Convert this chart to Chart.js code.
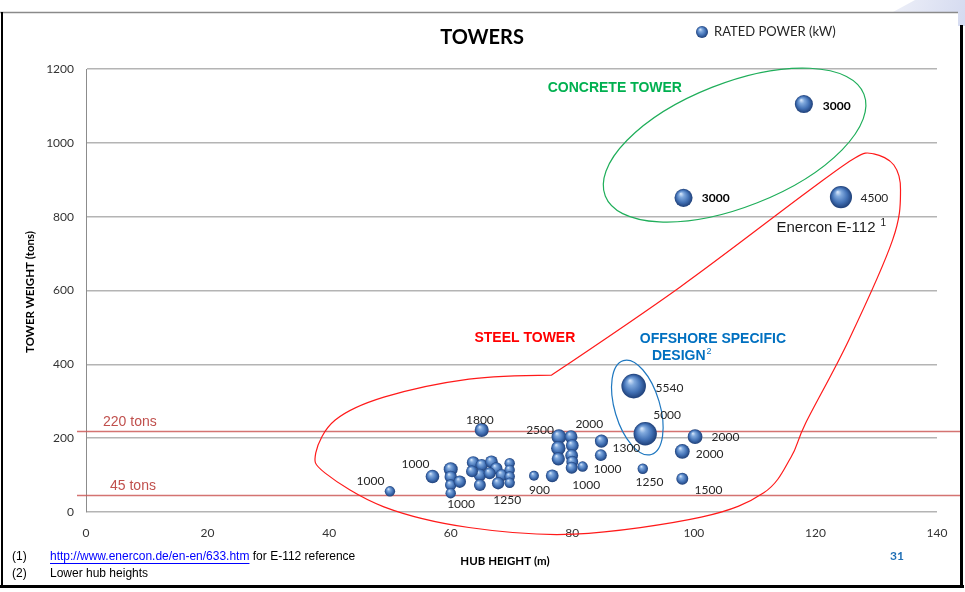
<!DOCTYPE html>
<html>
<head>
<meta charset="utf-8">
<script src="https://cdn.jsdelivr.net/npm/chart.js@4.4.0/dist/chart.umd.min.js"></script>
<style>
  html, body { margin: 0; padding: 0; background: #fff; }
  #wrap { position: relative; width: 965px; height: 592px; }
</style>
</head>
<body>
<div id="wrap"><canvas id="towerChart" width="965" height="592"></canvas></div>
<script>
// Hub height (m) of each turbine
const hubHeight = [
  50, 57, 60, 60, 60, 60, 61.5, 63.7, 65.1, 64.8, 64.8, 63.5, 66.7, 67.5, 66.4, 68.4, 67.8,
  69.7, 69.7, 69.7, 69.7, 65.1, 73.7, 76.7, 77.8, 77.7, 77.7, 79.8, 80, 79.9, 80, 79.9,
  81.7, 84.8, 84.7, 90.1, 92.0, 91.6, 100.2, 98.1, 98.1, 98.3, 118.1, 124.2
];
// Tower weight (tons)
const towerWeight = [
  56, 96, 116, 95, 73, 51, 82, 134, 127, 100, 73, 110, 136, 118, 105, 100, 78,
  132, 114, 96, 79, 222, 98, 98, 204, 173, 144, 204, 180, 153, 136, 120,
  123, 192, 154, 341, 212, 117, 204, 164, 90, 851, 1105, 853
];
// Rated power (kW) -> bubble size
const ratedPower = [
  1000, 1700, 1800, 1400, 1200, 1000, 1400, 1500, 1400, 1500, 1300, 1300, 1500, 1400, 1300, 1400, 1400,
  1000, 1000, 1000, 1000, 1800, 900, 1500, 2000, 1900, 1600, 1500, 1500, 1500, 1300, 1300,
  1000, 1600, 1300, 5540, 5000, 1000, 2000, 2000, 1300, 3000, 3000, 4500
];
const xTicks = [0, 20, 40, 60, 80, 100, 120, 140];
const yTicks = [0, 200, 400, 600, 800, 1000, 1200];
const refWeights = [220, 45];
const refNames = ['220 tons', '45 tons'];

// power labels written next to the bubbles (text, hub height, weight)
const powerLabels = [
  ['1000', 46.8, 83], ['1000', 54.2, 130], ['1000', 61.7, 20], ['1250', 69.3, 33],
  ['1800', 64.8, 250], ['900', 74.6, 59], ['2500', 74.7, 222], ['2000', 82.8, 239],
  ['1300', 88.9, 173], ['1000', 85.8, 117], ['1000', 82.3, 72], ['5540', 96.0, 336],
  ['5000', 95.6, 263], ['2000', 105.2, 202], ['2000', 102.6, 158], ['1250', 92.7, 80],
  ['1500', 102.4, 60], ['4500', 129.7, 849]
];
const boldLabels = [['3000', 103.6, 849], ['3000', 123.5, 1100]];

const points = hubHeight.map((h, i) => ({
  x: h,
  y: towerWeight[i],
  r: 0.165 * Math.sqrt(ratedPower[i])
}));

const FONT = 'Lato, "Open Sans", sans-serif';
const ARIAL = '"Liberation Sans", Arial, sans-serif';

function sphere(c, x, y, r) {
  const g = c.createRadialGradient(x - r * 0.3, y - r * 0.45, r * 0.05, x, y, r);
  g.addColorStop(0, '#cfe1f8');
  g.addColorStop(0.25, '#80a9dd');
  g.addColorStop(0.65, '#4372b6');
  g.addColorStop(1, '#1e3f78');
  return g;
}

function sphereFill(ctx) {
  const chart = ctx.chart;
  if (!ctx.raw || !chart.scales.x || !chart.scales.y) return '#4f81bd';
  const x = chart.scales.x.getPixelForValue(ctx.raw.x);
  const y = chart.scales.y.getPixelForValue(ctx.raw.y);
  if (!isFinite(x) || !isFinite(y) || !isFinite(ctx.raw.r)) return '#4f81bd';
  return sphere(chart.ctx, x, y, ctx.raw.r);
}

// closed smooth curve through points (catmull-rom), third flag = sharp corner
function smoothClosed(c, pts) {
  const n = pts.length;
  const tan = pts.map((p, i) => {
    if (p[2]) return [0, 0];
    const a = pts[(i - 1 + n) % n], b = pts[(i + 1) % n];
    return [(b[0] - a[0]) / 6, (b[1] - a[1]) / 6];
  });
  c.moveTo(pts[0][0], pts[0][1]);
  for (let i = 0; i < n; i++) {
    const j = (i + 1) % n;
    const p1 = pts[i], p2 = pts[j];
    c.bezierCurveTo(p1[0] + tan[i][0], p1[1] + tan[i][1],
                    p2[0] - tan[j][0], p2[1] - tan[j][1], p2[0], p2[1]);
  }
}

// outline of the steel tower group (hub height, weight)
const steelOutline = [
  [37.8, 160], [41.0, 249], [49.0, 311], [63.0, 360], [76.6, 371, 1],
  [97.7, 609], [118.4, 864], [126.5, 959], [129.6, 970], [132.9, 940], [134.0, 872],
  [132.7, 737], [125.5, 466], [118.4, 241], [116.0, 149], [111.5, 52], [101.2, -14],
  [80.3, -60], [63.0, -42], [49.0, 14], [39.3, 106]
];

const towerOverlay = {
  id: 'towerOverlay',
  beforeDatasetsDraw(chart) {
    const c = chart.ctx, sy = chart.scales.y;
    c.save();
    refWeights.forEach((w, i) => {
      const py = Math.round(sy.getPixelForValue(w)) + 0.5;
      c.strokeStyle = 'rgba(205, 90, 88, 0.85)';
      c.lineWidth = 1.5;
      c.beginPath();
      c.moveTo(77, py);
      c.lineTo(963, py);
      c.stroke();
      c.fillStyle = '#c0504d';
      c.font = '14px ' + ARIAL;
      c.textAlign = 'left';
      c.textBaseline = 'middle';
      c.fillText(refNames[i], i === 0 ? 103 : 110, py - 9);
    });
    c.restore();
  },
  afterDatasetsDraw(chart) {
    const c = chart.ctx, sx = chart.scales.x, sy = chart.scales.y;
    const px = v => sx.getPixelForValue(v);
    const py = v => sy.getPixelForValue(v);
    c.save();

    // concrete tower ellipse
    c.strokeStyle = '#1fae5a';
    c.lineWidth = 1.2;
    c.beginPath();
    c.ellipse(px(106.7), py(994), 139, 62, -21.5 * Math.PI / 180, 0, Math.PI * 2);
    c.stroke();

    // offshore ellipse
    c.strokeStyle = '#1f78c0';
    c.beginPath();
    c.ellipse(px(90.7), py(283), 49, 22.6, 73.4 * Math.PI / 180, 0, Math.PI * 2);
    c.stroke();

    // steel tower outline
    c.strokeStyle = '#ff1a1a';
    c.beginPath();
    smoothClosed(c, steelOutline.map(p => [px(p[0]), py(p[1]), p[2]]));
    c.closePath();
    c.stroke();

    // power labels
    c.fillStyle = '#262626';
    c.font = '12px ' + FONT;
    c.textAlign = 'center';
    c.textBaseline = 'middle';
    powerLabels.forEach(l => c.fillText(l[0], px(l[1]), py(l[2])));
    c.font = 'bold 12px ' + FONT;
    c.fillStyle = '#000';
    boldLabels.forEach(l => c.fillText(l[0], px(l[1]), py(l[2])));

    // group names
    c.font = 'bold 14px ' + ARIAL;
    c.fillStyle = '#00b050';
    c.textAlign = 'center';
    c.fillText('CONCRETE TOWER', px(87.0), py(1148));
    c.fillStyle = '#ff0000';
    c.fillText('STEEL TOWER', px(72.2), py(471));
    c.fillStyle = '#0070c0';
    c.textAlign = 'left';
    c.fillText('OFFSHORE SPECIFIC', px(91.1), py(469));
    c.fillText('DESIGN', px(93.1), py(422));
    const dw = c.measureText('DESIGN').width;
    c.font = '9px ' + ARIAL;
    c.fillText('2', px(93.1) + dw + 1, py(422) - 5);

    c.fillStyle = '#1a1a1a';
    c.font = '15px ' + ARIAL;
    c.fillText('Enercon E-112', px(113.6), py(769));
    const ew = c.measureText('Enercon E-112').width;
    c.font = '10px ' + ARIAL;
    c.fillText('1', px(113.6) + ew + 5, py(769) - 5);
    c.restore();
  },
  afterDraw(chart) {
    const c = chart.ctx;
    c.save();

    // title
    c.fillStyle = '#000';
    c.font = 'bold 20px ' + FONT;
    c.textAlign = 'center';
    c.textBaseline = 'middle';
    c.fillText('TOWERS', 482, 38);

    // legend
    c.fillStyle = sphere(c, 702, 32, 6);
    c.beginPath();
    c.arc(702, 32, 6, 0, Math.PI * 2);
    c.fill();
    c.fillStyle = '#262626';
    c.font = '13px ' + FONT;
    c.textAlign = 'left';
    c.fillText('RATED POWER (kW)', 714, 32);

    // axis titles
    c.font = 'bold 11.5px ' + FONT;
    c.fillStyle = '#000';
    c.textAlign = 'center';
    c.fillText('HUB HEIGHT (m)', 505, 561);
    c.save();
    c.translate(30, 292);
    c.rotate(-Math.PI / 2);
    c.fillText('TOWER WEIGHT (tons)', 0, 0);
    c.restore();

    // footnotes
    c.font = '12px ' + ARIAL;
    c.textAlign = 'left';
    c.fillStyle = '#000';
    c.fillText('(1)', 12, 557);
    c.fillText('(2)', 12, 574);
    c.fillStyle = '#0000ff';
    const link = 'http://www.enercon.de/en-en/633.htm';
    c.fillText(link, 50, 557);
    const lw = c.measureText(link).width;
    c.fillRect(50, 563, lw, 1);
    c.fillStyle = '#000';
    c.fillText(' for E-112 reference', 50 + lw, 557);
    c.fillText('Lower hub heights', 50, 574);

    // slide number
    c.fillStyle = '#1f6fb5';
    c.font = 'bold 12px ' + FONT;
    c.textAlign = 'center';
    c.fillText('31', 897, 556);

    // slide frame
    const g = c.createLinearGradient(890, 0, 965, 25);
    g.addColorStop(0, '#eef0f8');
    g.addColorStop(1, '#d4daf0');
    c.fillStyle = g;
    c.beginPath();
    c.moveTo(893, 12);
    c.lineTo(915, 0);
    c.lineTo(965, 0);
    c.lineTo(965, 26);
    c.lineTo(958, 26);
    c.lineTo(958, 12);
    c.closePath();
    c.fill();
    c.strokeStyle = '#8a8a8a';
    c.lineWidth = 1.5;
    c.beginPath();
    c.moveTo(0, 12.5);
    c.lineTo(958, 12.5);
    c.stroke();
    c.fillStyle = '#000';
    c.fillRect(1, 12, 2, 576);
    c.fillRect(0, 585, 964, 3);
    c.fillRect(960, 25, 3, 563);
    c.restore();
  }
};

new Chart(document.getElementById('towerChart'), {
  type: 'bubble',
  data: {
    datasets: [{
      label: 'RATED POWER (kW)',
      data: points,
      backgroundColor: sphereFill,
      borderWidth: 0,
      hoverBorderWidth: 0
    }]
  },
  options: {
    responsive: false,
    animation: false,
    events: [],
    layout: { padding: { left: 0, top: 69, right: 28, bottom: 50 } },
    plugins: {
      legend: { display: false },
      tooltip: { enabled: false },
      title: { display: false }
    },
    scales: {
      x: {
        type: 'linear',
        min: xTicks[0],
        max: xTicks[xTicks.length - 1],
        afterBuildTicks: s => { s.ticks = xTicks.map(v => ({ value: v })); },
        afterFit: s => { s.height = 30; },
        ticks: { padding: 14, color: '#333', font: { family: FONT, size: 12 }, callback: v => String(v) },
        grid: { display: false, drawTicks: false },
        border: { display: false }
      },
      y: {
        min: yTicks[0],
        max: yTicks[yTicks.length - 1],
        afterBuildTicks: s => { s.ticks = yTicks.map(v => ({ value: v })); },
        afterFit: s => { s.width = 86; },
        ticks: { padding: 12, color: '#333', font: { family: FONT, size: 12 }, callback: v => String(v) },
        grid: { color: '#b4b4b4', lineWidth: 1.5, drawTicks: false },
        border: { display: true, color: '#8c8c8c', width: 1 }
      }
    }
  },
  plugins: [towerOverlay]
});
</script>
</body>
</html>
